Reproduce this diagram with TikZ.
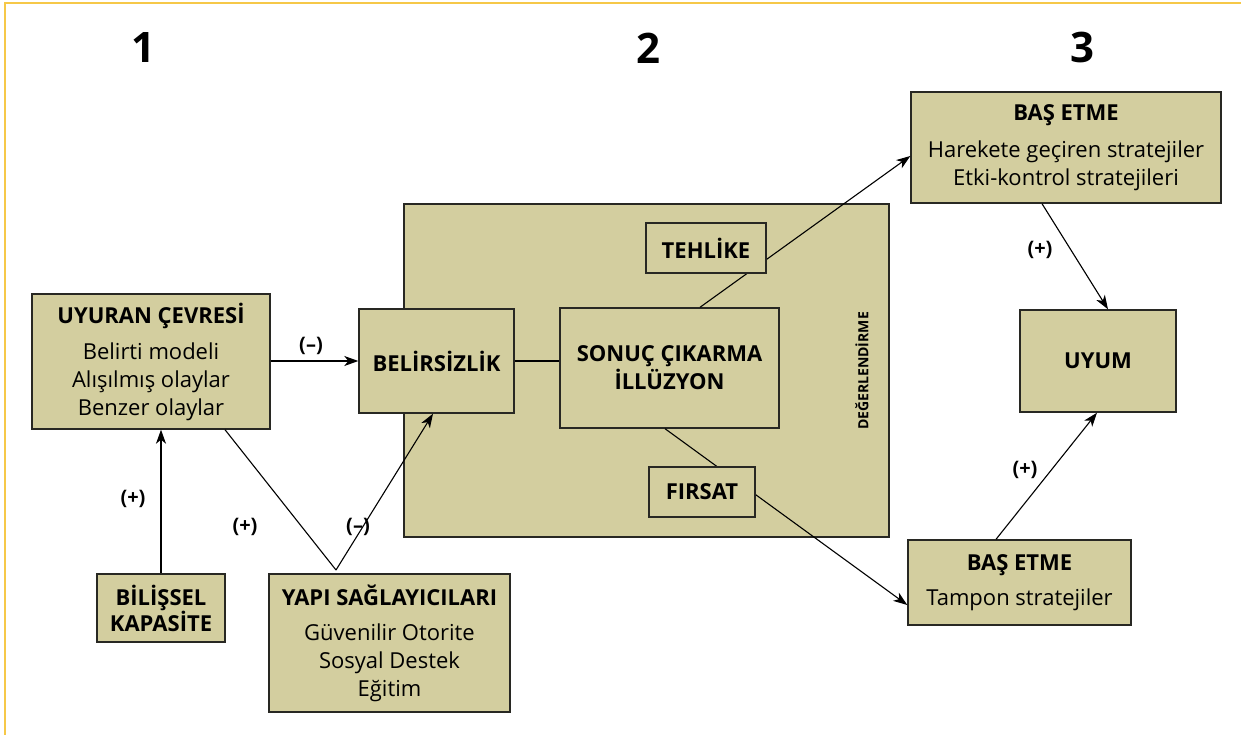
\documentclass[tikz,border=0pt]{standalone}
\usepackage{fontspec}
\setmainfont{Open Sans}
\usetikzlibrary{arrows.meta}
\definecolor{boxfill}{RGB}{211,206,159}
\definecolor{frameyellow}{RGB}{246,200,72}
\definecolor{boxline}{RGB}{40,40,35}
\begin{document}
\begin{tikzpicture}[x=1pt,y=-1pt,
  box/.style={draw=boxline, fill=boxfill, line width=1.4pt, inner sep=0pt, align=center,
              font=\fontsize{22}{28}\selectfont},
  conn/.style={line width=1.1pt, black},
  arr/.style={conn, -{Stealth[length=14pt,width=10pt,inset=4pt]}},
  lbl/.style={font=\bfseries\fontsize{20}{22}\selectfont},
  hdr/.style={font=\bfseries\fontsize{42}{42}\selectfont}]
\useasboundingbox (0,0) rectangle (1241,735);
\draw[frameyellow, line width=1.6pt] (5,735) -- (5,3) -- (1241,3);

% headers
\node[hdr] (h1) at (143,48) {1};
\node[hdr] (h2) at (648,48) {2};
\node[hdr] (h3) at (1082,48) {3};

% big evaluation box
\node[box, minimum width=485pt, minimum height=333pt] (deg) at (646.5,370.5) {};
\node[font=\bfseries\fontsize{14}{14}\selectfont, rotate=90] (degt) at (862,371) {DEĞERLENDİRME};

% main nodes
\node[box, minimum width=238pt, minimum height=135pt] (uy) at (151,361.5)
  {\textbf{UYURAN ÇEVRESİ}\\[8pt]Belirti modeli\\Alışılmış olaylar\\Benzer olaylar};
\node[box, minimum width=155pt, minimum height=104pt] (bel) at (436.5,361) {\textbf{BELİRSİZLİK}};
\node[box, minimum width=219pt, minimum height=120pt] (son) at (669.5,368) {\textbf{SONUÇ ÇIKARMA}\\\textbf{İLLÜZYON}};
\node[box, minimum width=310pt, minimum height=111pt] (bt) at (1066,147.5)
  {\textbf{BAŞ ETME}\\[9pt]Harekete geçiren stratejiler\\Etki-kontrol stratejileri};
\node[box, minimum width=156pt, minimum height=102pt] (um) at (1098,361) {\textbf{UYUM}};
\node[box, minimum width=223pt, minimum height=85pt] (bb) at (1019.5,582.5)
  {\textbf{BAŞ ETME}\\[7pt]Tampon stratejiler};
\node[box, minimum width=128pt, minimum height=68pt, font=\bfseries\fontsize{22}{26}\selectfont] (bil) at (161,608)
  {BİLİŞSEL\\KAPASİTE};
\node[box, minimum width=241pt, minimum height=138pt] (yapi) at (389.5,643)
  {\textbf{YAPI SAĞLAYICILARI}\\[7pt]Güvenilir Otorite\\Sosyal Destek\\Eğitim};

% connectors through the evaluation box
\draw[arr] ([xshift=30.5pt]son.north) -- ([yshift=-8.5pt]bt.west);
\draw[arr] ([xshift=-4.5pt]son.south) -- ([yshift=-22.5pt]bb.west);
\node[box, minimum width=120pt, minimum height=50pt] (teh) at (706,248) {\textbf{TEHLİKE}};
\node[box, minimum width=106pt, minimum height=50pt] (fir) at (702,492) {\textbf{FIRSAT}};

\draw[arr] (uy.east |- bel.west) -- (bel.west);
\draw[conn] (bel.east) -- (bel.east -| son.west);
\draw[arr] (bil.north) -- (bil.north |- uy.south);
\coordinate (v) at (336,570);
\draw[conn] ([xshift=74pt]uy.south) -- (v);
\draw[arr] (v) -- ([xshift=-3.5pt]bel.south);
\draw[arr] ([xshift=-24pt]bt.south) -- ([xshift=10pt]um.north);
\draw[arr] ([xshift=-23.5pt]bb.north) -- ([xshift=-1pt]um.south);

% labels
\node[lbl] (l1) at (311,346) {(–)};
\node[lbl] (l2) at (133,499) {(+)};
\node[lbl] (l3) at (245,527) {(+)};
\node[lbl] (l4) at (358,527) {(–)};
\node[lbl] (l5) at (1040,250) {(+)};
\node[lbl] (l6) at (1025,470) {(+)};
\end{tikzpicture}
\end{document}
